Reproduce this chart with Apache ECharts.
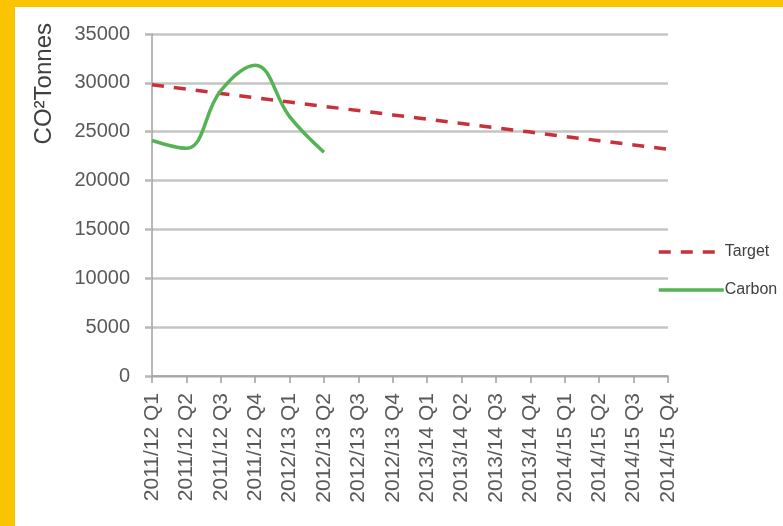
<!DOCTYPE html>
<html>
<head>
<meta charset="utf-8">
<script src="https://cdn.jsdelivr.net/npm/echarts@6/dist/echarts.min.js"></script>
<style>
    html, body { margin: 0; padding: 0; width: 783px; height: 526px; background: #fbc400; overflow: hidden; }
    #main { position: absolute; left: 15px; top: 7px; width: 768px; height: 519px; background: #ffffff; }
</style>
</head>
<body>
<div id="main"></div>
<script>
// quarters on the x axis
var quarters = ['2011/12 Q1', '2011/12 Q2', '2011/12 Q3', '2011/12 Q4',
    '2012/13 Q1', '2012/13 Q2', '2012/13 Q3', '2012/13 Q4',
    '2013/14 Q1', '2013/14 Q2', '2013/14 Q3', '2013/14 Q4',
    '2014/15 Q1', '2014/15 Q2', '2014/15 Q3', '2014/15 Q4'];

var targetValues = [29800, 29360, 28920, 28480, 28040, 27600, 27160, 26720,
    26280, 25840, 25400, 24960, 24520, 24080, 23640, 23200];
var carbonValues = [24100, 23300, 29200, 31800, 26550, 22900];

var yMin = 0, yMax = 35000, yStep = 5000;

var myChart = echarts.init(document.getElementById('main'));

var option = {
    animation: false,
    textStyle: { fontFamily: 'Liberation Sans' },
    grid: { left: 137, right: 115, top: 27, bottom: 150 },
    legend: {
        orient: 'vertical',
        left: 642,
        top: 237,
        padding: 0,
        itemWidth: 65,
        itemHeight: 14,
        itemGap: 22,
        itemStyle: { opacity: 0 },
        lineStyle: { width: 3.5 },
        textStyle: { fontSize: 16, color: '#404040', padding: [0, 0, 0, -4] },
        data: ['Target', 'Carbon']
    },
    graphic: [{
        type: 'text',
        left: 17,
        top: 16,
        rotation: Math.PI / 2,
        style: { text: 'CO²Tonnes', fontSize: 24, fill: '#404040', fontFamily: 'Liberation Sans' }
    }],
    xAxis: {
        type: 'category',
        data: quarters,
        boundaryGap: false,
        axisLine: { lineStyle: { color: '#a0a0a0', width: 1.5 } },
        axisTick: { show: true, length: 7, alignWithLabel: true, lineStyle: { color: '#a0a0a0', width: 1.5 } },
        axisLabel: { rotate: 90, interval: 0, fontSize: 21, color: '#595959', margin: 17 }
    },
    yAxis: {
        type: 'value',
        min: yMin,
        max: yMax,
        interval: yStep,
        axisLine: { show: true, lineStyle: { color: '#a0a0a0', width: 1.5 } },
        axisTick: { show: true, length: 7, lineStyle: { color: '#b8b8b8', width: 2.5 } },
        axisLabel: { fontSize: 20, color: '#595959', margin: 22, formatter: function (v) { return String(v); } },
        splitLine: { lineStyle: { color: '#c4c4c4', width: 2.5 } }
    },
    series: [{
        name: 'Target',
        type: 'line',
        data: targetValues,
        symbol: 'none',
        color: '#c8303c',
        lineStyle: { color: '#c8303c', width: 3.5, type: [12, 10] }
    }, {
        name: 'Carbon',
        type: 'line',
        data: carbonValues,
        symbol: 'none',
        smooth: 0.4,
        color: '#55b255',
        lineStyle: { color: '#55b255', width: 3.5 }
    }]
};

option && myChart.setOption(option);
</script>
</body>
</html>
